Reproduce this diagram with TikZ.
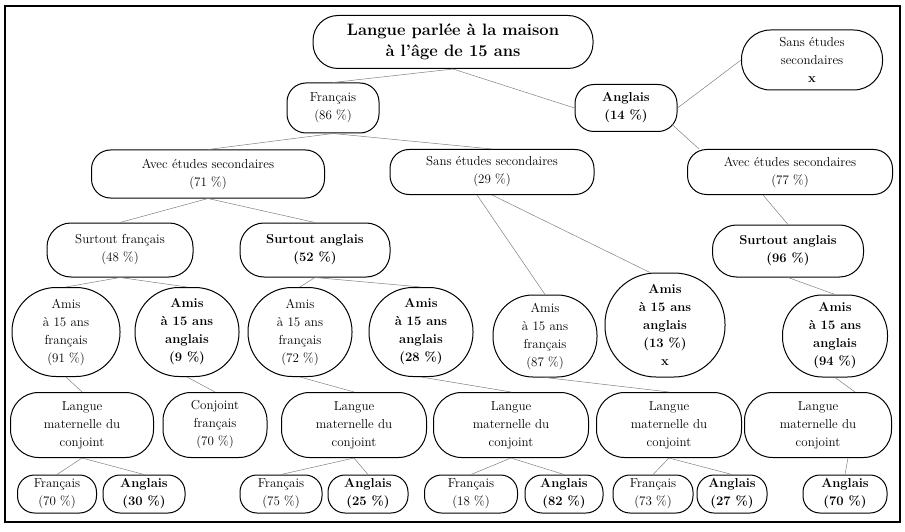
\documentclass[tikz,border=0pt]{standalone}
\usepackage{tikz}
\usetikzlibrary{calc}

\tikzset{
  box/.style={draw, line width=1pt, rounded corners=19pt, align=center, inner sep=2pt,
    font=\fontsize{13}{18}\selectfont},
  amis/.style={box, rounded corners=44pt, minimum width=104pt, minimum height=89pt},
  langue/.style={box, rounded corners=28pt, minimum width=145pt, minimum height=65pt},
  leaf/.style={box, rounded corners=17pt, minimum width=80pt, minimum height=38pt},
  link/.style={gray, line width=0.5pt},
}

\begin{document}
\begin{tikzpicture}[x=1pt,y=-1pt]
            \useasboundingbox (0,0) rectangle (905,532);
            % Cadre
            \draw[line width=1.3pt] (5,6) rectangle (900,522);

            % Niveau 0
            \node[box, rounded corners=25pt, minimum width=280pt, minimum height=53pt,
              font=\fontsize{16.5}{21}\selectfont\bfseries] (titre) at (453,42)
              {Langue parlée à la maison\\à l'âge de 15 ans};

            % Niveau 1
            \node[box, minimum width=92pt, minimum height=50pt] (fr) at (333,108) {Français\\(86~\%)};
            \node[box, minimum width=102pt, minimum height=47pt] (an) at (626,108) {\textbf{Anglais}\\\textbf{(14~\%)}};
            \node[box, rounded corners=29pt, minimum width=141pt, minimum height=60pt] (sansx) at (812,60)
              {Sans études\\secondaires\\\textbf{x}};

            % Niveau 2 : études
            \node[box, minimum width=233pt, minimum height=48pt] (avecF) at (208,174) {Avec études secondaires\\(71~\%)};
            \node[box, minimum width=204pt, minimum height=45pt] (sansF) at (492,172) {Sans études secondaires\\(29~\%)};
            \node[box, minimum width=205pt, minimum height=45pt] (avecA) at (790,172) {Avec études secondaires\\(77~\%)};

            % Niveau 3 : travail
            \node[box, rounded corners=24pt, minimum width=146pt, minimum height=54pt] (sfF) at (120,250) {Surtout français\\(48~\%)};
            \node[box, rounded corners=24pt, minimum width=150pt, minimum height=54pt] (saF) at (315,250) {\textbf{Surtout anglais}\\\textbf{(52~\%)}};
            \node[box, rounded corners=24pt, minimum width=151pt, minimum height=52pt] (saA) at (788,251) {\textbf{Surtout anglais}\\\textbf{(96~\%)}};

            % Niveau 4 : amis
            \node[amis, minimum width=108pt] (amis91) at (66,332) {Amis\\à 15 ans\\français\\(91~\%)};
            \node[amis] (amis9) at (187,332) {\textbf{Amis}\\\textbf{à 15 ans}\\\textbf{anglais}\\\textbf{(9~\%)}};
            \node[amis] (amis72) at (300,332) {Amis\\à 15 ans\\français\\(72~\%)};
            \node[amis] (amis28) at (421,332) {\textbf{Amis}\\\textbf{à 15 ans}\\\textbf{anglais}\\\textbf{(28~\%)}};
            \node[amis, minimum height=82pt, rounded corners=40pt] (amis87) at (545,336) {Amis\\à 15 ans\\français\\(87~\%)};
            \node[amis, minimum width=120pt, minimum height=104pt, rounded corners=51pt] (amis13) at (665,325)
              {\textbf{Amis}\\\textbf{à 15 ans}\\\textbf{anglais}\\\textbf{(13~\%)}\\\textbf{x}};
            \node[amis, minimum width=105pt, minimum height=82pt, rounded corners=40pt] (amis94) at (835,336) {\textbf{Amis}\\\textbf{à 15 ans}\\\textbf{anglais}\\\textbf{(94~\%)}};

            % Niveau 5 : conjoint
            \node[langue, minimum width=143pt] (lm1) at (82,425) {Langue\\maternelle du\\conjoint};
            \node[langue, minimum width=104pt] (conj) at (215,425) {Conjoint\\français\\(70~\%)};
            \node[langue] (lm2) at (354,425) {Langue\\maternelle du\\conjoint};
            \node[langue, minimum width=155pt] (lm3) at (511,425) {Langue\\maternelle du\\conjoint};
            \node[langue] (lm4) at (669,425) {Langue\\maternelle du\\conjoint};
            \node[langue, minimum width=147pt] (lm5) at (818,425) {Langue\\maternelle du\\conjoint};

            % Niveau 6
            \node[leaf, minimum width=79pt] (f70) at (57,494) {Français\\(70~\%)};
            \node[leaf, minimum width=82pt] (a30) at (144,494) {\textbf{Anglais}\\\textbf{(30~\%)}};
            \node[leaf, minimum width=82pt] (f75) at (281,494) {Français\\(75~\%)};
            \node[leaf] (a25) at (368,494) {\textbf{Anglais}\\\textbf{(25~\%)}};
            \node[leaf, minimum width=93pt] (f18) at (471,494) {Français\\(18~\%)};
            \node[leaf, minimum width=78pt] (a82) at (564,494) {\textbf{Anglais}\\\textbf{(82~\%)}};
            \node[leaf] (f73) at (653,494) {Français\\(73~\%)};
            \node[leaf, minimum width=70pt] (a27) at (732,494) {\textbf{Anglais}\\\textbf{(27~\%)}};
            \node[leaf, minimum width=84pt] (a70) at (845,494) {\textbf{Anglais}\\\textbf{(70~\%)}};

            % Liens
            \draw[link] (titre.south) -- (fr.north);
            \draw[link] (titre.south) -- (an.west);
            \draw[link] (an.east) -- (sansx.west);
            \draw[link] ($(an.east)+(-6,16)$) -- ($(avecA.north west)+(12,0)$);
            \draw[link] (fr.south) -- (avecF.north);
            \draw[link] (fr.south) -- (sansF.north);
            \draw[link] (avecF.south) -- (sfF.north);
            \draw[link] (avecF.south) -- (saF.north);
            \draw[link] ($(sansF.south)+(-15,0)$) -- (amis87.north);
            \draw[link] (sansF.south) -- ($(amis13.north)+(-15,0)$);
            \draw[link] ($(avecA.south)+(-27,0)$) -- (saA.north);
            \draw[link] (saA.south) -- (amis94.north);
            \draw[link] (sfF.south) -- (amis91.north);
            \draw[link] (sfF.south) -- (amis9.north);
            \draw[link] (saF.south) -- (amis72.north);
            \draw[link] (saF.south) -- (amis28.north);
            \draw[link] (amis91.south) -- (lm1.north);
            \draw[link] (amis9.south) -- (conj.north);
            \draw[link] (amis72.south) -- (lm2.north);
            \draw[link] (amis28.south) -- (lm3.north);
            \draw[link] (amis87.south) -- (lm4.north);
            \draw[link] (amis94.south) -- ($(lm5.north)+(37,0)$);
            \draw[link] (lm1.south) -- (f70.north);
            \draw[link] (lm1.south) -- (a30.north);
            \draw[link] (lm2.south) -- (f75.north);
            \draw[link] (lm2.south) -- (a25.north);
            \draw[link] (lm3.south) -- (f18.north);
            \draw[link] (lm3.south) -- (a82.north);
            \draw[link] (lm4.south) -- (f73.north);
            \draw[link] (lm4.south) -- (a27.north);
            \draw[link] ($(lm5.south)+(30,0)$) -- (a70.north);
\end{tikzpicture}
\end{document}
